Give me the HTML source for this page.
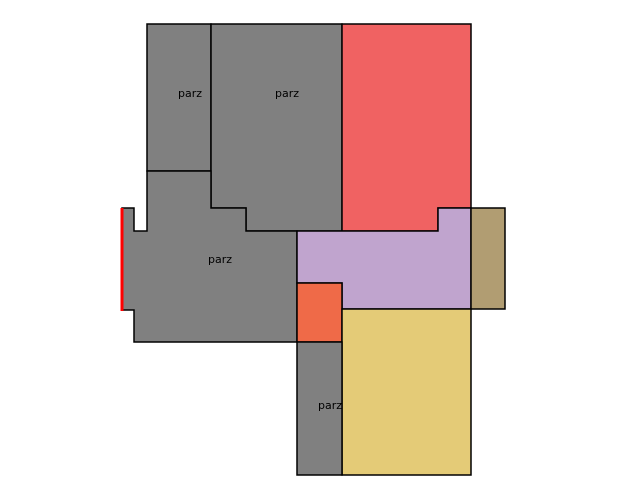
<!DOCTYPE html>
<html><head><meta charset="utf-8"><style>
html,body{margin:0;padding:0;background:#fff;}
svg{display:block;}
text{font-family:"DejaVu Sans","Liberation Sans",sans-serif;font-size:11px;fill:#000;}
</style></head><body>
<svg width="640" height="500" viewBox="0 0 640 500">
<g stroke="#000" stroke-width="1.5" stroke-linejoin="miter">
<polygon fill="#808080" points="147,24 211,24 211,171 147,171"/>
<polygon fill="#808080" points="211,24 342,24 342,231 246,231 246,208 211,208"/>
<polygon fill="#f06262" points="342,24 471,24 471,208 438,208 438,231 342,231"/>
<polygon fill="#808080" points="147,171 211,171 211,208 246,208 246,231 297,231 297,342 134,342 134,310 122,310 122,208 134,208 134,231 147,231"/>
<polygon fill="#c0a4ce" points="297,231 438,231 438,208 471,208 471,309 342,309 342,283 297,283"/>
<polygon fill="#ef6a48" points="297,283 342,283 342,342 297,342"/>
<polygon fill="#b19d72" points="471,208 505,208 505,309 471,309"/>
<polygon fill="#e4cb77" points="342,309 471,309 471,475 342,475"/>
<polygon fill="#808080" points="297,342 342,342 342,475 297,475"/>
</g>
<line x1="122" y1="208" x2="122" y2="311" stroke="#ff0000" stroke-width="3"/>
<text x="190" y="97" text-anchor="middle">parz</text>
<text x="287" y="97" text-anchor="middle">parz</text>
<text x="220" y="263" text-anchor="middle">parz</text>
<text x="330" y="409" text-anchor="middle">parz</text>
</svg>
</body></html>
